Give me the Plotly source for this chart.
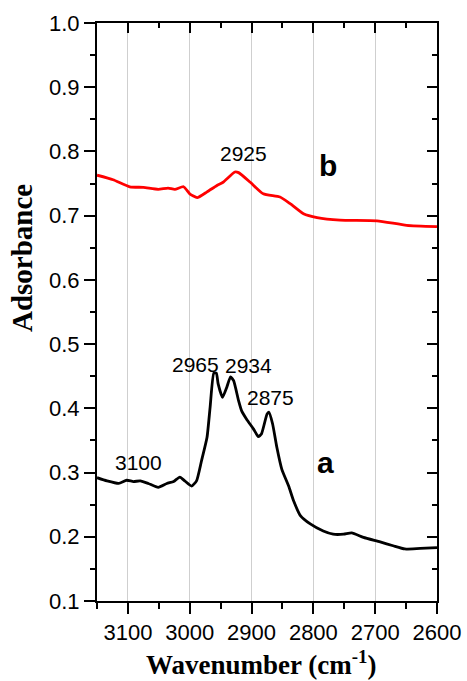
import plotly.graph_objects as go

# Curve b (red)
wn_b = [3150, 3124, 3097, 3075, 3051, 3035, 3024, 3010, 3000, 2988, 2972, 2956, 2946,
        2927, 2921, 2902, 2881, 2854, 2838, 2816, 2794, 2757, 2697, 2649, 2600]
abs_b = [0.763, 0.756, 0.745, 0.744, 0.741, 0.743, 0.741, 0.745, 0.734, 0.728, 0.737, 0.747, 0.752,
         0.768, 0.767, 0.752, 0.734, 0.729, 0.719, 0.703, 0.697, 0.693, 0.692, 0.685, 0.683]

# Curve a (black)
wn_a = [3150, 3134, 3115, 3102, 3091, 3080, 3067, 3051, 3037, 3026, 3016, 3008, 2997, 2989,
        2981, 2972, 2967, 2961, 2957, 2954, 2947, 2940, 2934, 2929, 2921, 2916, 2908, 2897,
        2889, 2884, 2875, 2872, 2866, 2859, 2851, 2840, 2832, 2821, 2805, 2784, 2768, 2751,
        2738, 2719, 2692, 2671, 2652, 2627, 2600]
abs_a = [0.292, 0.287, 0.283, 0.288, 0.286, 0.287, 0.283, 0.277, 0.283, 0.286, 0.293, 0.287, 0.279, 0.287,
         0.318, 0.355, 0.402, 0.455, 0.455, 0.438, 0.417, 0.433, 0.449, 0.443, 0.412, 0.396, 0.383, 0.368,
         0.356, 0.360, 0.391, 0.394, 0.376, 0.339, 0.305, 0.279, 0.256, 0.233, 0.220, 0.209, 0.204, 0.204,
         0.206, 0.199, 0.192, 0.186, 0.181, 0.182, 0.183]

# Peak labels
peak_text = ["2925", "2965", "2934", "2875", "3100"]
peak_x = [2913, 2991, 2905, 2870, 3083]
peak_y = [0.797, 0.469, 0.467, 0.417, 0.316]

curve_text = ["b", "a"]
curve_x = [2776, 2781]
curve_y = [0.778, 0.316]

x_title = "Wavenumber (cm<sup>-1</sup>)"
y_title = "Adsorbance"

x_range = [3150, 2600]
y_range = [0.1, 1.0]

fig = go.Figure()
fig.add_trace(go.Scatter(x=wn_a, y=abs_a, mode="lines", line=dict(color="black", width=2.8, shape="spline", smoothing=0.5),
                         showlegend=False, hoverinfo="skip"))
fig.add_trace(go.Scatter(x=wn_b, y=abs_b, mode="lines", line=dict(color="#ff0000", width=2.8, shape="spline", smoothing=0.5),
                         showlegend=False, hoverinfo="skip"))
# invisible trace for the mirrored axes
fig.add_trace(go.Scatter(x=[x_range[0]], y=[y_range[0]], xaxis="x2", yaxis="y2", mode="markers",
                         marker=dict(opacity=0), showlegend=False, hoverinfo="skip"))

tick_font = dict(family="Liberation Sans, Arial", size=22, color="black")

for t, x, y in zip(peak_text, peak_x, peak_y):
    fig.add_annotation(x=x, y=y, text=t, showarrow=False, font=dict(family="Liberation Sans, Arial", size=21, color="black"))
for t, x, y in zip(curve_text, curve_x, curve_y):
    fig.add_annotation(x=x, y=y, text="<b>" + t + "</b>", showarrow=False,
                       font=dict(family="Liberation Sans, Arial", size=30, color="black"))

# axis titles placed as annotations (paper coords)
fig.add_annotation(xref="paper", yref="paper", x=(261 - 97) / 340, y=(601 - 663) / 578,
                   text="<b>" + x_title + "</b>", showarrow=False, xanchor="center", yanchor="middle",
                   font=dict(family="Liberation Serif, Times New Roman", size=27, color="black"))
fig.add_annotation(xref="paper", yref="paper", x=(22 - 97) / 340, y=(601 - 258) / 578,
                   text="<b>" + y_title + "</b>", showarrow=False, textangle=-90, xanchor="center", yanchor="middle",
                   font=dict(family="Liberation Serif, Times New Roman", size=29, color="black"))

fig.update_layout(
    width=467, height=681,
    margin=dict(l=97, r=30, t=23, b=80, autoexpand=False),
    paper_bgcolor="white", plot_bgcolor="white",
    xaxis=dict(range=x_range, tick0=0, dtick=100, ticks="outside", ticklen=11, tickwidth=2,
               tickcolor="black", showline=True, linecolor="black", linewidth=2, automargin=False,
               showgrid=True, gridcolor="#cfcfcf", gridwidth=1, zeroline=False,
               tickfont=tick_font,
               minor=dict(dtick=50, tick0=0, ticks="outside", ticklen=6, tickwidth=2, tickcolor="black", showgrid=False)),
    yaxis=dict(range=y_range, tick0=0, dtick=0.1, tickformat=".1f", ticks="outside", ticklen=11, tickwidth=2,
               tickcolor="black", showline=True, linecolor="black", linewidth=2, automargin=False,
               showgrid=False, zeroline=False, tickfont=tick_font,
               minor=dict(dtick=0.05, tick0=0, ticks="outside", ticklen=5, tickwidth=2, tickcolor="black", showgrid=False)),
    xaxis2=dict(range=x_range, overlaying="x", side="top", anchor="y2", tick0=0, dtick=100, automargin=False,
                ticks="inside", ticklen=10, tickwidth=2, tickcolor="black", showticklabels=False,
                showline=True, linecolor="black", linewidth=2, showgrid=False, zeroline=False,
                minor=dict(dtick=50, tick0=0, ticks="inside", ticklen=5, tickwidth=2, tickcolor="black", showgrid=False)),
    yaxis2=dict(range=y_range, overlaying="y", side="right", anchor="x2", tick0=0, dtick=0.1, automargin=False,
                ticks="inside", ticklen=10, tickwidth=2, tickcolor="black", showticklabels=False,
                showline=True, linecolor="black", linewidth=2, showgrid=False, zeroline=False,
                minor=dict(dtick=0.05, tick0=0, ticks="inside", ticklen=5, tickwidth=2, tickcolor="black", showgrid=False)),
)

fig.write_html("out.html")
